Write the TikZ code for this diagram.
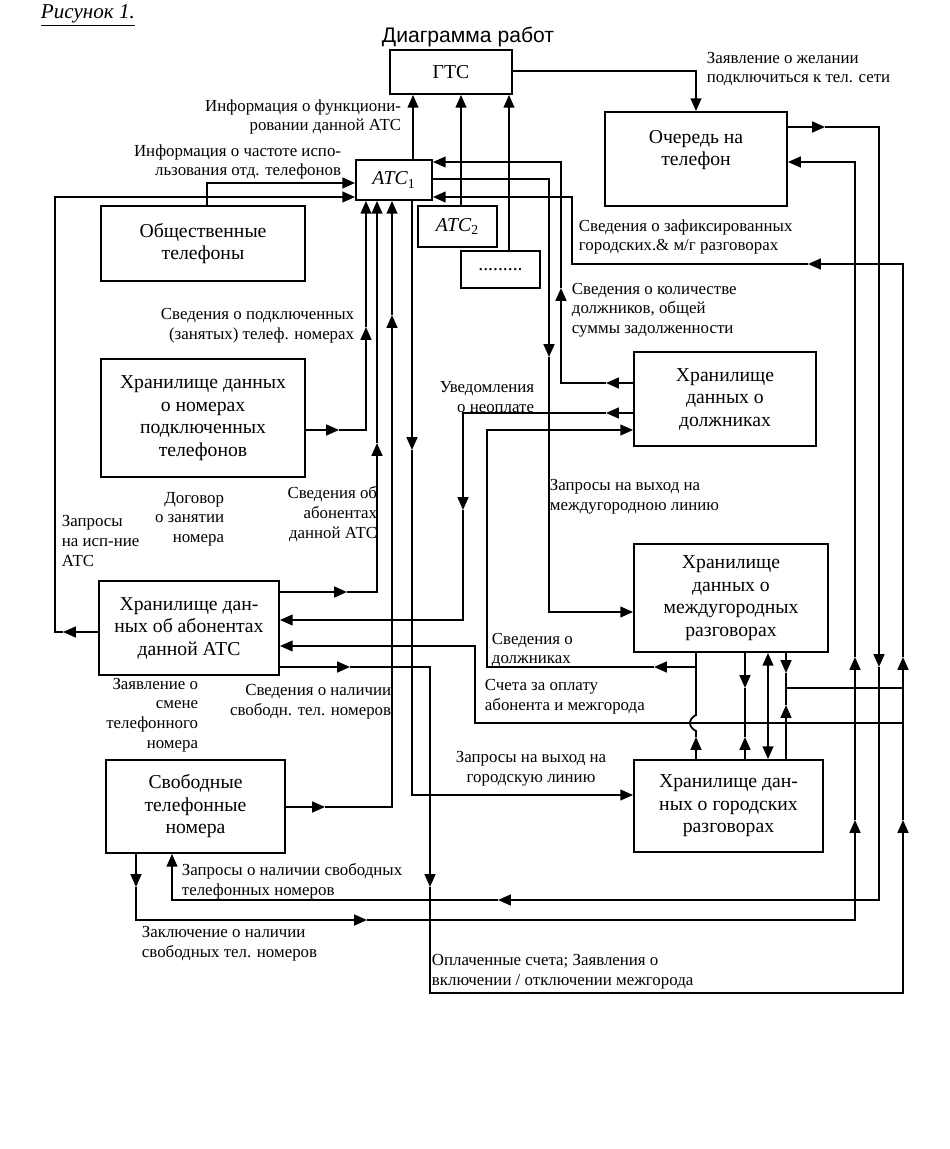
\documentclass[tikz,border=0pt]{standalone}
\usepackage{fontspec}
\setmainfont{Liberation Serif}
\newfontfamily\titlefont{Liberation Sans}
\usepackage{tikz}
\usetikzlibrary{arrows.meta}

\begin{document}
\begin{tikzpicture}[x=0.025cm, y=-0.025cm, line width=1.3pt,
                   >={Triangle[length=3.2mm,width=2.7mm]},
                   box/.style={draw, rectangle, align=center, inner sep=0pt, font=\fontsize{14}{16}\selectfont},
                   lbl/.style={inner sep=0pt, font=\fontsize{12}{14}\selectfont}]
\useasboundingbox (0,0) rectangle (949,1149);
\node[anchor=base west, inner sep=0pt, font=\itshape\fontsize{15}{17}\selectfont] (fig) at (40,19) {\underline{Рисунок 1.}};
\node[anchor=base, inner sep=0pt, font=\titlefont\fontsize{15}{18}\selectfont] (title) at (468,43) {Диаграмма работ};

\node[box, minimum width=3.05cm, minimum height=1.1cm] (gts) at (451,72) {ГТС};
\node[box, minimum width=1.9cm, minimum height=1cm] (atc1) at (394,180) {\textit{АТС}\textsubscript{1}};
\node[box, minimum width=1.975cm, minimum height=1.025cm] (atc2) at (457.5,226.5) {\textit{АТС}\textsubscript{2}};
\node[box, minimum width=1.975cm, minimum height=0.925cm] (dots) at (500.5,269.5) {.........};
\node[box, minimum width=4.55cm, minimum height=2.35cm] (queue) at (696,159) {Очередь на\\телефон\\\mbox{}};
\node[box, minimum width=5.1cm, minimum height=1.875cm] (pub) at (203,243.5) {Общественные\\телефоны};
\node[box, minimum width=5.1cm, minimum height=2.95cm] (numbers) at (203,418) {Хранилище данных\\о номерах\\подключенных\\телефонов};
\node[box, minimum width=4.5cm, minimum height=2.35cm] (subs) at (189,628) {Хранилище дан-\\ных об абонентах\\данной АТС};
\node[box, minimum width=4.475cm, minimum height=2.325cm] (free) at (195.5,806.5) {Свободные\\телефонные\\номера};
\node[box, minimum width=4.55cm, minimum height=2.35cm] (debt) at (725,399) {Хранилище\\данных о\\должниках};
\node[box, minimum width=4.85cm, minimum height=2.7cm] (ld) at (731,598) {Хранилище\\данных о\\междугородных\\разговорах};
\node[box, minimum width=4.725cm, minimum height=2.3cm] (city) at (728.5,806) {Хранилище дан-\\ных о городских\\разговорах};

\node[lbl, anchor=east, align=right] (lfunc) at (402,117) {Информация о функциони-\\ровании  данной АТС};
\node[lbl, anchor=east, align=right] (lfreq) at (342,162) {Информация о частоте испо-\\льзования отд. телефонов};
\node[lbl, anchor=west, align=left] (lwish) at (706,69) {Заявление о желании\\подключиться к тел. сети};
\node[lbl, anchor=west, align=left] (lcalls) at (578,237) {Сведения о зафиксированных\\городских.\& м/г разговорах};
\node[lbl, anchor=west, align=left] (lcount) at (571,310) {Сведения о количестве\\должников, общей\\суммы  задолженности};
\node[lbl, anchor=east, align=right] (lbusy) at (355,326) {Сведения о подключенных\\(занятых) телеф. номерах};
\node[lbl, anchor=east, align=right] (lnotice) at (535,397) {Уведомления\\о неоплате};
\node[lbl, anchor=east, align=right] (lcontract) at (225,519) {Договор\\о занятии\\номера};
\node[lbl, anchor=west, align=left] (lreq) at (61,541) {Запросы\\на исп-ние\\АТС};
\node[lbl, anchor=east, align=right] (lsubs) at (378,514) {Сведения об\\абонентах\\данной АТС};
\node[lbl, anchor=west, align=left] (lldreq) at (549,497) {Запросы на выход на\\междугородною линию};
\node[lbl, anchor=west, align=left] (ldebtors) at (491,650) {Сведения о\\должниках};
\node[lbl, anchor=west, align=left] (lbills) at (484,697) {Счета за оплату\\абонента и межгорода};
\node[lbl, anchor=east, align=right] (lchange) at (199,715) {Заявление о\\смене\\телефонного\\номера};
\node[lbl, anchor=east, align=right] (lavail) at (392,702) {Сведения о наличии\\свободн. тел. номеров};
\node[lbl, align=center] (lcityreq) at (531,769) {Запросы на выход на\\городскую линию};
\node[lbl, anchor=west, align=left] (lfreereq) at (181,881) {Запросы о наличии свободных\\телефонных номеров};
\node[lbl, anchor=west, align=left] (lconcl) at (141,944) {Заключение о наличии\\свободных тел. номеров};
\node[lbl, anchor=west, align=left] (lpaid) at (431,972) {Оплаченные счета;  Заявления о\\включении / отключении межгорода};

\coordinate (j1) at (903,723);
\coordinate (j2) at (903,688);
\coordinate (j3) at (696,667);

\draw[->] (atc1.north -| 413,0) -- (gts.south -| 413,0);
\draw[->] (atc2.north -| 461,0) -- (gts.south -| 461,0);
\draw[->] (dots.north -| 509,0) -- (gts.south -| 509,0);
\draw[->] (gts.east |- 0,71) -- (696,71) -- (queue.north);

\draw[->] (pub.north -| 207,0) -- (207,183) -- (atc1.west |- 0,183);
\draw[->] (subs.west |- 0,632) -- (63,632);
\draw[->] (63,632) -- (55,632) -- (55,197) -- (atc1.west |- 0,197);

\draw[->] (numbers.east |- 0,430) -- (339,430);
\draw[->] (339,430) -- (366,430) -- (366,327);
\draw[->] (366,327) -- (atc1.south -| 366,0);
\draw[->] (subs.east |- 0,592) -- (347,592);
\draw[->] (347,592) -- (377,592) -- (377,443);
\draw[->] (377,443) -- (atc1.south -| 377,0);
\draw[->] (free.east |- 0,807) -- (325,807);
\draw[->] (325,807) -- (392,807) -- (392,315);
\draw[->] (392,315) -- (atc1.south -| 392,0);
\draw[->] (atc1.south -| 412,0) -- (412,450);
\draw[->] (412,450) -- (412,795) -- (city.west |- 0,795);

\draw[->] (debt.west |- 0,383) -- (606,383);
\draw[->] (606,383) -- (561,383) -- (561,288);
\draw[->] (561,288) -- (561,162) -- (atc1.east |- 0,162);
\draw[->] (atc1.east |- 0,179) -- (549,179) -- (549,357);
\draw[->] (549,357) -- (549,612) -- (ld.west |- 0,612);

\draw[->] (subs.east |- 0,667) -- (350,667);
\draw[->] (350,667) -- (430,667) -- (430,887);
\draw[->] (430,887) -- (430,993) -- (903,993) -- (903,820);
\draw[->] (903,820) -- (903,657);
\draw[->] (903,657) -- (903,264) -- (808,264);
\draw[->] (808,264) -- (572,264) -- (572,197) -- (atc1.east |- 0,197);

\draw[->] (queue.east |- 0,127) -- (825,127);
\draw[->] (825,127) -- (879,127) -- (879,667);
\draw[->] (879,667) -- (879,900) -- (498,900);
\draw[->] (498,900) -- (172,900) -- (free.south -| 172,0);

\draw[->] (free.south -| 136,0) -- (136,887);
\draw[->] (136,887) -- (136,920) -- (367,920);
\draw[->] (367,920) -- (855,920) -- (855,820);
\draw[->] (855,820) -- (855,657);
\draw[->] (855,657) -- (855,162) -- (queue.east |- 0,162);

\draw[->] (j1) -- (475,723) -- (475,646) -- (subs.east |- 0,646);

\draw[->] (debt.west |- 0,413) -- (606,413);
\draw[->] (606,413) -- (463,413) -- (463,510);
\draw[->] (463,510) -- (463,620) -- (subs.east |- 0,620);

\draw[->] (city.north -| 696,0) -- (696,737);
\draw (696,737) -- (696,731) .. controls (688,727) and (688,719) .. (696,715) -- (ld.south -| 696,0);
\draw[->] (j3) -- (654,667);
\draw[->] (654,667) -- (487,667) -- (487,430) -- (debt.west |- 0,430);

\draw[->] (ld.south -| 745,0) -- (745,688);
\draw[->] (city.north -| 745,0) -- (745,737);
\draw (745,688) -- (745,737);
\draw[<->] (ld.south -| 768,0) -- (city.north -| 768,0);
\draw[->] (ld.south -| 786,0) -- (786,673);
\draw[->] (city.north -| 786,0) -- (786,705);
\draw (786,673) -- (786,705);
\draw (786,688) -- (j2);
\end{tikzpicture}
\end{document}
